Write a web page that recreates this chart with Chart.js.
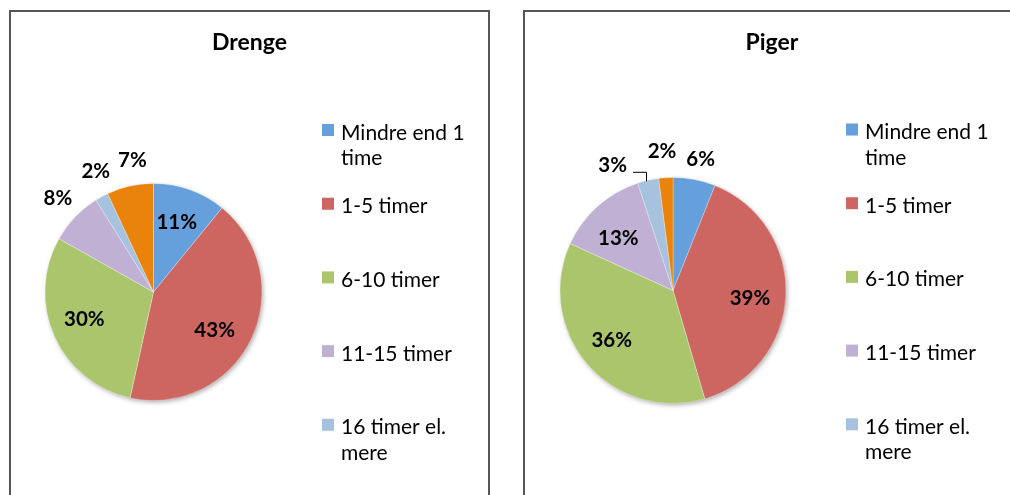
<!DOCTYPE html>
<html><head><meta charset="utf-8">
<script src="https://cdn.jsdelivr.net/npm/chart.js@4/dist/chart.umd.min.js"></script>
<style>
html,body{margin:0;padding:0;width:1010px;height:495px;overflow:hidden;background:#fff;}
#page{position:relative;width:1010px;height:495px;overflow:hidden;}
.box{position:absolute;top:10px;height:560px;border:2px solid #555;}
#b1{left:9px;width:477px;}
#b2{left:523px;width:600px;border-right:none;}
canvas{display:block;}
</style></head><body>
<div id="page">
<div class="box" id="b1"><canvas id="c1" width="477" height="560"></canvas></div>
<div class="box" id="b2"><canvas id="c2" width="494" height="560"></canvas></div>
</div>
<script>
// ---- data ----
const categories = ["Mindre end 1 time", "1-5 timer", "6-10 timer", "11-15 timer", "16 timer el. mere", "Ved ikke"];
const drengeValues = [11, 43, 30, 8, 2, 7];
const pigerValues = [6, 39, 36, 13, 3, 2];
const chartTitles = ["Drenge", "Piger"];

// ---- styles ----
const sliceColors = ["#659fdc", "#cd6661", "#abc56c", "#c0b1d4", "#a6c2de", "#e9830b"];
const FONT = "Lato, 'Liberation Sans', sans-serif";

const titlePlugin = {
  id: 'boxTitle',
  afterDraw(chart, args, opts) {
    const ctx = chart.ctx;
    ctx.save();
    ctx.font = "bold 23px " + FONT;
    ctx.fillStyle = "#000";
    ctx.textAlign = "center";
    ctx.textBaseline = "alphabetic";
    ctx.fillText(opts.text, chart.width / 2, opts.baseline);
    ctx.restore();
  }
};

const shadowPlugin = {
  id: 'pieShadow',
  beforeDatasetsDraw(chart) {
    const meta = chart.getDatasetMeta(0);
    const arc = meta.data[0];
    if (!arc) return;
    const ctx = chart.ctx;
    ctx.save();
    ctx.shadowColor = "rgba(0,0,0,0.35)";
    ctx.shadowBlur = 5;
    ctx.shadowOffsetX = 1.5;
    ctx.shadowOffsetY = 2;
    ctx.beginPath();
    ctx.arc(arc.x, arc.y, arc.outerRadius - 0.5, 0, Math.PI * 2);
    ctx.fillStyle = "#ffffff";
    ctx.fill();
    ctx.restore();
  }
};

const labelPlugin = {
  id: 'pieLabels',
  afterDatasetsDraw(chart, args, opts) {
    const meta = chart.getDatasetMeta(0);
    const values = chart.data.datasets[0].data;
    const ctx = chart.ctx;
    ctx.save();
    ctx.font = "bold 20.5px " + FONT;
    ctx.fillStyle = "#000";
    ctx.textAlign = "center";
    ctx.textBaseline = "middle";
    meta.data.forEach((arc, i) => {
      const mid = (arc.startAngle + arc.endAngle) / 2;
      const a = mid + (opts.angleOffset[i] || 0) * Math.PI / 180;
      const r = arc.outerRadius * opts.radius[i];
      const x = arc.x + r * Math.cos(a);
      const y = arc.y + r * Math.sin(a);
      const txt = values[i] + "%";
      ctx.fillText(txt, x, y);
      if (opts.leader && opts.leader[i]) {
        const w = ctx.measureText(txt).width;
        const px = arc.x + arc.outerRadius * Math.cos(mid);
        const py = arc.y + arc.outerRadius * Math.sin(mid);
        ctx.strokeStyle = "#000";
        ctx.lineWidth = 1;
        ctx.beginPath();
        ctx.moveTo(x + w / 2 + 6, y + 6.5);
        ctx.lineTo(Math.round(px - 2) + 0.5, y + 6.5);
        ctx.lineTo(Math.round(px - 2) + 0.5, py + 1);
        ctx.stroke();
      }
    });
    ctx.restore();
  }
};

const legendPlugin = {
  id: 'sideLegend',
  afterDraw(chart, args, opts) {
    const arc = chart.getDatasetMeta(0).data[0];
    const ctx = chart.ctx;
    const ds = chart.data.datasets[0];
    const x0 = arc.x + arc.outerRadius + opts.gap;
    ctx.save();
    ctx.font = "21px " + FONT;
    ctx.textAlign = "left";
    ctx.textBaseline = "alphabetic";
    chart.data.labels.slice(0, opts.maxItems).forEach((lab, i) => {
      const top = opts.top + i * opts.spacing;
      ctx.fillStyle = ds.backgroundColor[i];
      ctx.fillRect(x0, top, 12, 12);
      const words = lab.split(" ");
      const lines = [];
      let cur = "";
      words.forEach(w => {
        const test = cur ? cur + " " + w : w;
        if (ctx.measureText(test).width > opts.maxWidth && cur) { lines.push(cur); cur = w; }
        else cur = test;
      });
      if (cur) lines.push(cur);
      ctx.fillStyle = "#000";
      lines.forEach((ln, k) => ctx.fillText(ln, x0 + 19, top + 15.5 + k * 25.5));
    });
    ctx.restore();
  }
};

function makeChart(id, title, values, pad, radius, labelOpts, legendTop) {
  return new Chart(document.getElementById(id), {
    type: 'pie',
    data: {
      labels: categories,
      datasets: [{
        data: values,
        backgroundColor: sliceColors,
        borderColor: "rgba(255,255,255,0.35)",
        borderWidth: 0.8,
        radius: radius
      }]
    },
    options: {
      responsive: false,
      animation: false,
      events: [],
      layout: { padding: pad },
      plugins: {
        legend: { display: false },
        title: { display: false },
        tooltip: { enabled: false },
        boxTitle: { text: title, baseline: 38 },
        pieLabels: labelOpts,
        sideLegend: { gap: 60, top: legendTop, spacing: 73.7, maxWidth: 140, maxItems: 5 }
      }
    },
    plugins: [shadowPlugin, labelPlugin, legendPlugin, titlePlugin]
  });
}

function build() {
  makeChart('c1', chartTitles[0], drengeValues,
    { left: 22.5, right: 214.5, top: 160, bottom: 160 }, 108.5,
    { radius: [0.68, 0.665, 0.687, 1.236, 1.23, 1.23], angleOffset: [-1.3, 6.2, 2.2, 0.9, 2.9, 3.4], leader: [0,0,0,0,0,0] },
    112);
  makeChart('c2', chartTitles[1], pigerValues,
    { left: 23, right: 221, top: 153.5, bottom: 156.5 }, 113,
    { radius: [1.183, 0.685, 0.70, 0.67, 1.226, 1.232], angleOffset: [1, 3.4, 1.7, -4.4, -13.1, -0.9], leader: [0,0,0,0,1,0] },
    111.5);
}

if (document.fonts && document.fonts.load) {
  Promise.all([document.fonts.load("bold 20px Lato"), document.fonts.load("21px Lato")]).then(build, build);
} else build();
</script>
</body></html>
